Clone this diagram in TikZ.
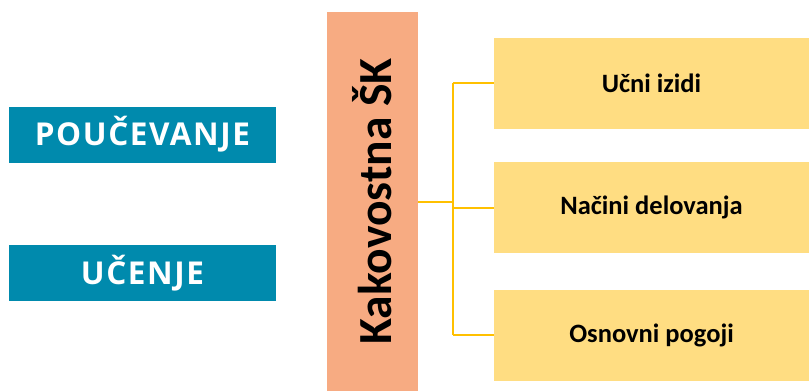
\documentclass[tikz,border=0pt]{standalone}
\usepackage{fontspec}
\setmainfont{Carlito}
\newfontfamily\capsfont[LetterSpace=5]{Open Sans}
\usetikzlibrary{positioning}

\definecolor{tealbox}{HTML}{008AAD}
\definecolor{salmon}{HTML}{F7AB82}
\definecolor{partfill}{HTML}{FFDD82}
\definecolor{linegold}{HTML}{FFC000}

\tikzset{
  topic/.style={fill=tealbox, text=white, inner sep=0pt,
    minimum width=267pt, minimum height=56pt,
    font=\capsfont\bfseries\fontsize{31.5}{31.5}\selectfont},
  quality/.style={fill=salmon, inner sep=0pt,
    minimum width=91pt, minimum height=379pt},
  part/.style={fill=partfill, inner sep=0pt,
    minimum width=315pt, minimum height=91pt,
    font=\bfseries\fontsize{26.5}{26.5}\selectfont},
  link/.style={draw=linegold, line width=2pt}
}

\begin{document}
\begin{tikzpicture}[x=1pt,y=-1pt]
\useasboundingbox (0,0) rectangle (809,391);

% left side
\node[topic] (teach) at (142.5,134.5) {POUČEVANJE};
\node[topic] (learn) at (142.5,273) {UČENJE};

% middle column
\node[quality] (ksk) at (372.5,201.5) {};
\node[rotate=90, font=\bfseries\fontsize{47.5}{47.5}\selectfont] (ksklabel) at (ksk.center) {Kakovostna ŠK};

% right side
\node[part] (outcomes) at (651.5,83) {Učni izidi};
\node[part] (methods) at (651.5,207.5) {Načini delovanja};
\node[part] (basics) at (651.5,335) {Osnovni pogoji};

% connectors
\coordinate (bus) at (453,203);
\draw[link] (ksk.east) -- (ksk.east -| bus);
\draw[link] (bus |- outcomes.west) -- (bus |- basics.west);
\draw[link] (bus |- outcomes.west) -- (outcomes.west);
\draw[link] (bus |- methods.west) -- (methods.west);
\draw[link] (bus |- basics.west) -- (basics.west);

\end{tikzpicture}
\end{document}
